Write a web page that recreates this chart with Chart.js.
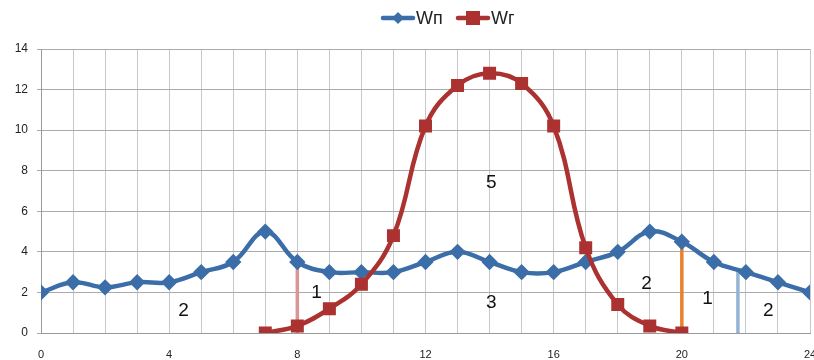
<!DOCTYPE html>
<html><head><meta charset="utf-8">
<script src="https://cdn.jsdelivr.net/npm/chart.js@4"></script>
<style>html,body{margin:0;padding:0;background:#fff;overflow:hidden;}#wrap{width:814px;height:360px;position:relative;overflow:hidden;}</style>
</head><body><div id="wrap"><canvas id="c" width="814" height="360"></canvas></div>
<script>
const hours = [0,1,2,3,4,5,6,7,8,9,10,11,12,13,14,15,16,17,18,19,20,21,22,23,24];
const wpValues = [2,2.5,2.25,2.5,2.5,3,3.5,5,3.5,3,3,3,3.5,4,3.5,3,3,3.5,4,5,4.5,3.5,3,2.5,2];
const wgHours = [7,8,9,10,11,12,13,14,15,16,17,18,19,20];
const wgValues = [0,0.35,1.2,2.4,4.8,10.2,12.2,12.8,12.3,10.2,4.2,1.4,0.35,0];
const seriesNames = ['Wп','Wг'];
const xTickLabels = [0,4,8,12,16,20,24];
const markerX = [8,20,21.75];
const markerTop = [3.5,4.5,3.2];
const markerColors = ['#d99694','#e8822f','#95b3d7'];
const zoneLabels = ['2','1','5','3','2','1','2'];
const zoneX = [4.45,8.6,14.05,14.05,18.9,20.8,22.7];
const zoneY = [1.1,2.0,7.4,1.5,2.45,1.7,1.1];

const BLUE = '#3b6ea8', RED = '#ab3230';

const datasets = [
  {label:seriesNames[0], data:hours.map((h,i)=>({x:h,y:wpValues[i]})), borderColor:BLUE, backgroundColor:BLUE,
   borderWidth:4.5, pointStyle:'rectRot', pointRadius:5, pointHoverRadius:5, tension:0.4, order:1},
  {label:seriesNames[1], data:wgHours.map((h,i)=>({x:h,y:wgValues[i]})), borderColor:RED, backgroundColor:RED,
   borderWidth:4.5, pointStyle:'rect', pointRadius:6, pointHoverRadius:6, tension:0.4, order:0}
];
markerX.forEach((mx,i)=>{
  datasets.push({label:'m'+i, data:[{x:mx,y:0},{x:mx,y:markerTop[i]}], borderColor:markerColors[i],
    borderWidth:3.5, pointRadius:0, tension:0, order:2});
});

const labelPlugin = {
  id:'zoneLabels',
  afterDatasetsDraw(chart){
    const {ctx, scales:{x,y}} = chart;
    ctx.save();
    ctx.fillStyle = '#111';
    ctx.font = '19px "Liberation Sans", Arial, sans-serif';
    ctx.textAlign = 'center'; ctx.textBaseline = 'middle';
    zoneLabels.forEach((t,i)=>ctx.fillText(t, x.getPixelForValue(zoneX[i]), y.getPixelForValue(zoneY[i])));
    ctx.restore();
  }
};

// custom legend (line + marker + name), drawn in the top band
const legendPlugin = {
  id:'customLegend',
  afterDraw(chart){
    const ctx = chart.ctx;
    const items = [
      {x:383, color:BLUE, shape:'diamond', text:seriesNames[0]},
      {x:458, color:RED, shape:'square', text:seriesNames[1]}
    ];
    const cy = 18;
    ctx.save();
    items.forEach(it=>{
      ctx.strokeStyle = it.color; ctx.lineWidth = 4.5; ctx.lineCap = 'round';
      ctx.beginPath(); ctx.moveTo(it.x, cy); ctx.lineTo(it.x+30, cy); ctx.stroke();
      ctx.fillStyle = it.color;
      const mx = it.x+15;
      if (it.shape==='diamond'){
        ctx.beginPath(); ctx.moveTo(mx,cy-6); ctx.lineTo(mx+6,cy); ctx.lineTo(mx,cy+6); ctx.lineTo(mx-6,cy); ctx.closePath(); ctx.fill();
      } else {
        ctx.fillRect(mx-7,cy-7,14,14);
      }
      ctx.fillStyle = '#222';
      ctx.font = '18px "Liberation Sans", Arial, sans-serif';
      ctx.textAlign = 'left'; ctx.textBaseline = 'middle';
      ctx.fillText(it.text, it.x+33, cy+1);
    });
    ctx.restore();
  }
};

new Chart(document.getElementById('c'), {
  type:'line',
  data:{datasets},
  plugins:[labelPlugin, legendPlugin],
  options:{
    responsive:false, animation:false,
    layout:{autoPadding:false, padding:{left:0,right:4,top:49,bottom:0}},
    plugins:{
      tooltip:{enabled:false},
      legend:{display:false}
    },
    scales:{
      x:{type:'linear', min:0, max:24,
        ticks:{stepSize:1, autoSkip:false, maxRotation:0, color:'#222', padding:15,
          font:{size:11, family:'"Liberation Sans", Arial, sans-serif'},
          callback:(v)=>xTickLabels.includes(v)?String(v):''},
        grid:{color:'#c8c8c8', lineWidth:1, drawTicks:false},
        border:{color:'#999'},
        afterFit(s){ s.paddingLeft = 0; s.paddingRight = 0; s.height = 27; }
      },
      y:{min:0, max:14,
        ticks:{stepSize:2, color:'#222', padding:9,
          font:{size:12, family:'"Liberation Sans", Arial, sans-serif'}},
        grid:{color:'#aaaaaa', lineWidth:1, tickLength:4},
        border:{color:'#999'},
        afterFit(s){ s.width = 41; s.paddingTop = 0; s.paddingBottom = 0; }
      }
    }
  }
});
</script></body></html>
